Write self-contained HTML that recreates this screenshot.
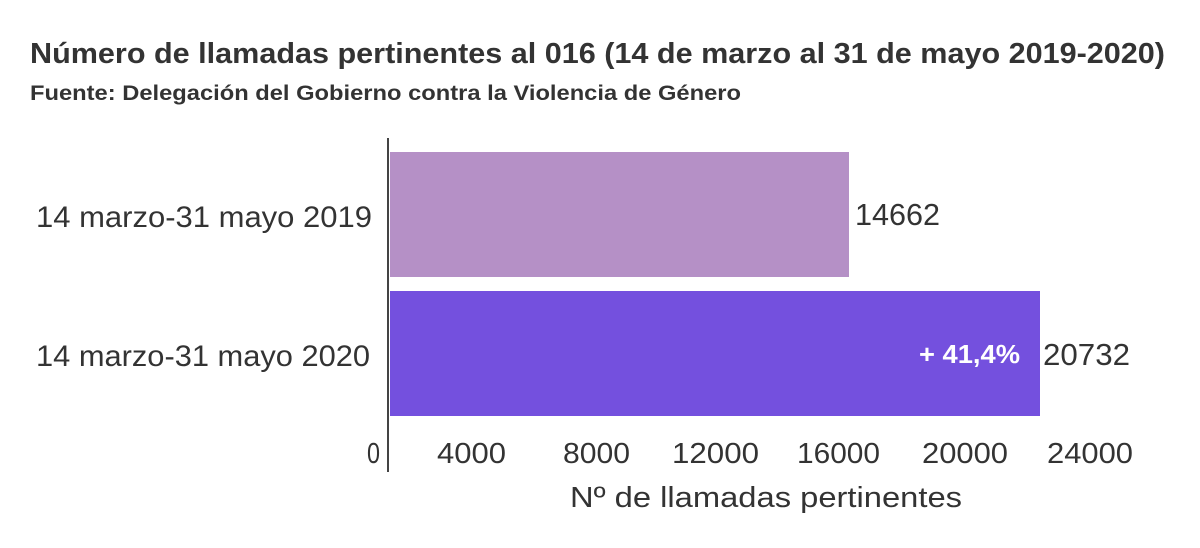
<!DOCTYPE html>
<html>
<head>
<meta charset="utf-8">
<style>
  html, body { margin: 0; padding: 0; background: #ffffff; }
  svg { display: block; }
  text { font-family: "Liberation Sans", "DejaVu Sans", sans-serif; fill: #333333; }
</style>
</head>
<body>
<svg width="1200" height="548" viewBox="0 0 1200 548" xmlns="http://www.w3.org/2000/svg">
  <rect x="0" y="0" width="1200" height="548" fill="#ffffff"/>

  <!-- Title & subtitle -->
  <text x="30" y="63" font-size="29" font-weight="bold" textLength="1135" lengthAdjust="spacingAndGlyphs">Número de llamadas pertinentes al 016 (14 de marzo al 31 de mayo 2019-2020)</text>
  <text x="30" y="100" font-size="21" font-weight="bold" textLength="711" lengthAdjust="spacingAndGlyphs">Fuente: Delegación del Gobierno contra la Violencia de Género</text>

  <!-- Bars -->
  <rect x="390" y="152" width="459" height="125" fill="#B590C6"/>
  <rect x="390" y="291" width="650" height="125" fill="#7450DE"/>

  <!-- Axis line -->
  <rect x="387" y="138" width="2" height="334" fill="#444444"/>

  <!-- Category labels -->
  <text x="36" y="227" font-size="30" textLength="336" lengthAdjust="spacingAndGlyphs">14 marzo-31 mayo 2019</text>
  <text x="36" y="366" font-size="30" textLength="334" lengthAdjust="spacingAndGlyphs">14 marzo-31 mayo 2020</text>

  <!-- Value labels -->
  <text x="855" y="225" font-size="31" textLength="85" lengthAdjust="spacingAndGlyphs">14662</text>
  <text x="1043" y="365" font-size="31" textLength="87" lengthAdjust="spacingAndGlyphs">20732</text>
  <text x="919" y="363" font-size="26" font-weight="bold" style="fill:#ffffff" textLength="101" lengthAdjust="spacingAndGlyphs">+ 41,4%</text>

  <!-- Tick labels -->
  <text x="367" y="463" font-size="29" textLength="13" lengthAdjust="spacingAndGlyphs">0</text>
  <text x="437" y="463" font-size="29" textLength="69" lengthAdjust="spacingAndGlyphs">4000</text>
  <text x="563" y="463" font-size="29" textLength="67" lengthAdjust="spacingAndGlyphs">8000</text>
  <text x="672" y="463" font-size="29" textLength="87" lengthAdjust="spacingAndGlyphs">12000</text>
  <text x="797" y="463" font-size="29" textLength="83" lengthAdjust="spacingAndGlyphs">16000</text>
  <text x="922" y="463" font-size="29" textLength="86" lengthAdjust="spacingAndGlyphs">20000</text>
  <text x="1047" y="463" font-size="29" textLength="86" lengthAdjust="spacingAndGlyphs">24000</text>

  <!-- Axis title -->
  <text x="570" y="507" font-size="29" textLength="392" lengthAdjust="spacingAndGlyphs">Nº de llamadas pertinentes</text>
</svg>
</body>
</html>
